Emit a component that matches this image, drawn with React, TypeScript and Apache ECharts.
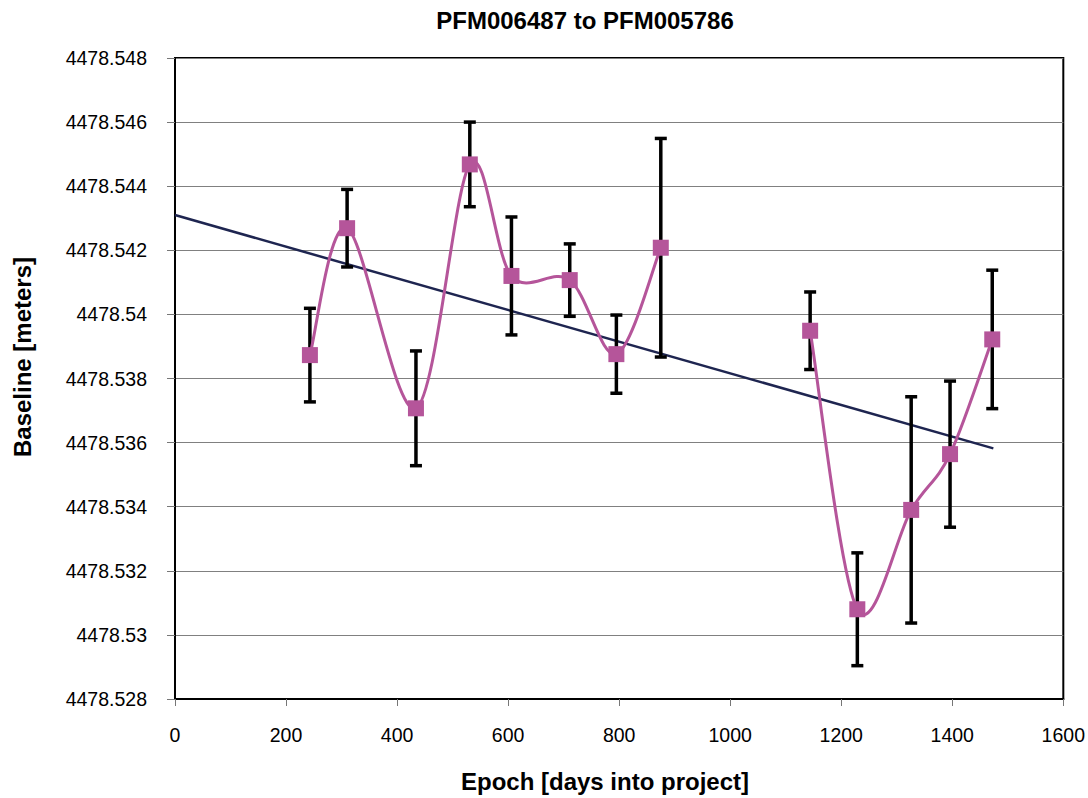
import React, { useEffect, useRef } from "react";
import * as echarts from "echarts";

// Baseline PFM006487 -> PFM005786, one solution per epoch
const epochs = [243, 310, 434, 531, 606, 711, 795, 875, 1144, 1229, 1326, 1396, 1472];
const baselines = [
  4478.53873, 4478.54269, 4478.53707, 4478.54468, 4478.5412, 4478.54107, 4478.53876,
  4478.54208, 4478.53949, 4478.5308, 4478.5339, 4478.53564, 4478.53922,
];
// one-sigma uncertainty for each solution (meters)
const errors = [
  0.00146, 0.00121, 0.00179, 0.00132, 0.00184, 0.00113, 0.00122, 0.00341, 0.00121,
  0.00176, 0.00353, 0.00228, 0.00216,
];
// the connecting curve restarts at these indices (no solutions in between)
const segmentStarts = [8];
// linear trend end points
const trendEpochs = [0, 1474];
const trendBaselines = [4478.5431, 4478.53582];

const TITLE = "PFM006487 to PFM005786";
const X_NAME = "Epoch [days into project]";
const Y_NAME = "Baseline [meters]";

const PURPLE = "#B5559A";
const FONT = "'Liberation Sans', Arial, sans-serif";

const n = epochs.length;
const isBreak = (i: number) => segmentStarts.includes(i);
const prevIdx = (i: number) => (i > 0 && !isBreak(i) ? i - 1 : i);
const nextIdx = (i: number) => (i < n - 1 && !isBreak(i + 1) ? i + 1 : i);

export default function App() {
  const ref = useRef<HTMLDivElement>(null);

  useEffect(() => {
    document.body.style.margin = "0";
    const chart = echarts.init(ref.current!, null, { renderer: "svg" });

    const points = epochs.map((e, i) => [e, baselines[i]]);
    const bars = epochs.map((e, i) => [e, baselines[i] - errors[i], baselines[i] + errors[i]]);
    const trend = trendEpochs.map((e, i) => [e, trendBaselines[i]]);

    // curve pieces between consecutive solutions of the same run
    const pieces: number[][] = [];
    for (let i = 0; i < n - 1; i++) {
      if (!isBreak(i + 1)) pieces.push([epochs[i], baselines[i], epochs[i + 1], baselines[i + 1], i]);
    }

    // cubic Bezier pieces with Catmull-Rom style tangents (spreadsheet smoothing)
    const renderPiece = (params: any, api: any) => {
      const i = pieces[params.dataIndex][4];
      const j = i + 1;
      const P = (k: number) => api.coord([epochs[k], baselines[k]]);
      const p0 = P(prevIdx(i));
      const p1 = P(i);
      const p2 = P(j);
      const p3 = P(nextIdx(j));
      return {
        type: "bezierCurve",
        shape: {
          x1: p1[0],
          y1: p1[1],
          x2: p2[0],
          y2: p2[1],
          cpx1: p1[0] + (p2[0] - p0[0]) / 6,
          cpy1: p1[1] + (p2[1] - p0[1]) / 6,
          cpx2: p2[0] - (p3[0] - p1[0]) / 6,
          cpy2: p2[1] - (p3[1] - p1[1]) / 6,
        },
        style: { stroke: PURPLE, lineWidth: 3, fill: "none" },
      };
    };

    const renderErrorBar = (_params: any, api: any) => {
      const x = api.value(0);
      const top = api.coord([x, api.value(2)]);
      const bot = api.coord([x, api.value(1)]);
      const hw = 6;
      const style = { stroke: "#000", lineWidth: 3.5 };
      return {
        type: "group",
        children: [
          { type: "line", shape: { x1: top[0], y1: top[1], x2: bot[0], y2: bot[1] }, style },
          { type: "line", shape: { x1: top[0] - hw, y1: top[1], x2: top[0] + hw, y2: top[1] }, style },
          { type: "line", shape: { x1: bot[0] - hw, y1: bot[1], x2: bot[0] + hw, y2: bot[1] }, style },
        ],
      };
    };

    chart.setOption({
      animation: false,
      backgroundColor: "#fff",
      grid: {
        left: 175,
        top: 58,
        right: 19,
        bottom: 99,
        show: true,
        borderColor: "#000",
        borderWidth: 2,
        backgroundColor: "transparent",
      },
      xAxis: {
        type: "value",
        min: 0,
        max: 1600,
        interval: 200,
        axisLine: { show: true, onZero: false, lineStyle: { color: "#000", width: 2 } },
        axisTick: { show: true, length: 7, lineStyle: { color: "#777" } },
        axisLabel: {
          color: "#000",
          fontFamily: FONT,
          fontSize: 19.5,
          margin: 26,
          formatter: (v: number) => String(v),
        },
        splitLine: { show: false },
      },
      yAxis: {
        type: "value",
        min: 4478.528,
        max: 4478.548,
        interval: 0.002,
        axisLine: { show: true, onZero: false, lineStyle: { color: "#000", width: 2 } },
        axisTick: { show: true, length: 8, lineStyle: { color: "#777" } },
        axisLabel: {
          color: "#000",
          fontFamily: FONT,
          fontSize: 19.5,
          margin: 28,
          formatter: (v: number) => String(parseFloat(v.toFixed(3))),
        },
        splitLine: { show: true, lineStyle: { color: "#808080", width: 1 } },
      },
      series: [
        {
          type: "line",
          data: trend,
          symbol: "none",
          silent: true,
          lineStyle: { color: "#1e2550", width: 2.5 },
          z: 1,
        },
        {
          type: "custom",
          data: bars,
          renderItem: renderErrorBar,
          encode: { x: 0, y: [1, 2] },
          silent: true,
          z: 2,
        },
        {
          type: "custom",
          data: pieces,
          renderItem: renderPiece,
          encode: { x: [0, 2], y: [1, 3] },
          silent: true,
          z: 3,
        },
        {
          type: "scatter",
          data: points,
          symbol: "rect",
          symbolSize: 16,
          silent: true,
          itemStyle: { color: PURPLE, opacity: 1 },
          z: 4,
        },
      ],
      graphic: [
        {
          type: "text",
          x: 585,
          y: 20,
          style: {
            text: TITLE,
            fill: "#000",
            font: `bold 24px ${FONT}`,
            textAlign: "center",
            textVerticalAlign: "middle",
          },
        },
        {
          type: "text",
          x: 605,
          y: 781,
          style: {
            text: X_NAME,
            fill: "#000",
            font: `bold 24px ${FONT}`,
            textAlign: "center",
            textVerticalAlign: "middle",
          },
        },
        {
          type: "text",
          x: 22,
          y: 357,
          rotation: Math.PI / 2,
          style: {
            text: Y_NAME,
            fill: "#000",
            font: `bold 24px ${FONT}`,
            textAlign: "center",
            textVerticalAlign: "middle",
          },
        },
      ],
    });

    return () => chart.dispose();
  }, []);

  return <div ref={ref} style={{ width: 1088, height: 798 }} />;
}
